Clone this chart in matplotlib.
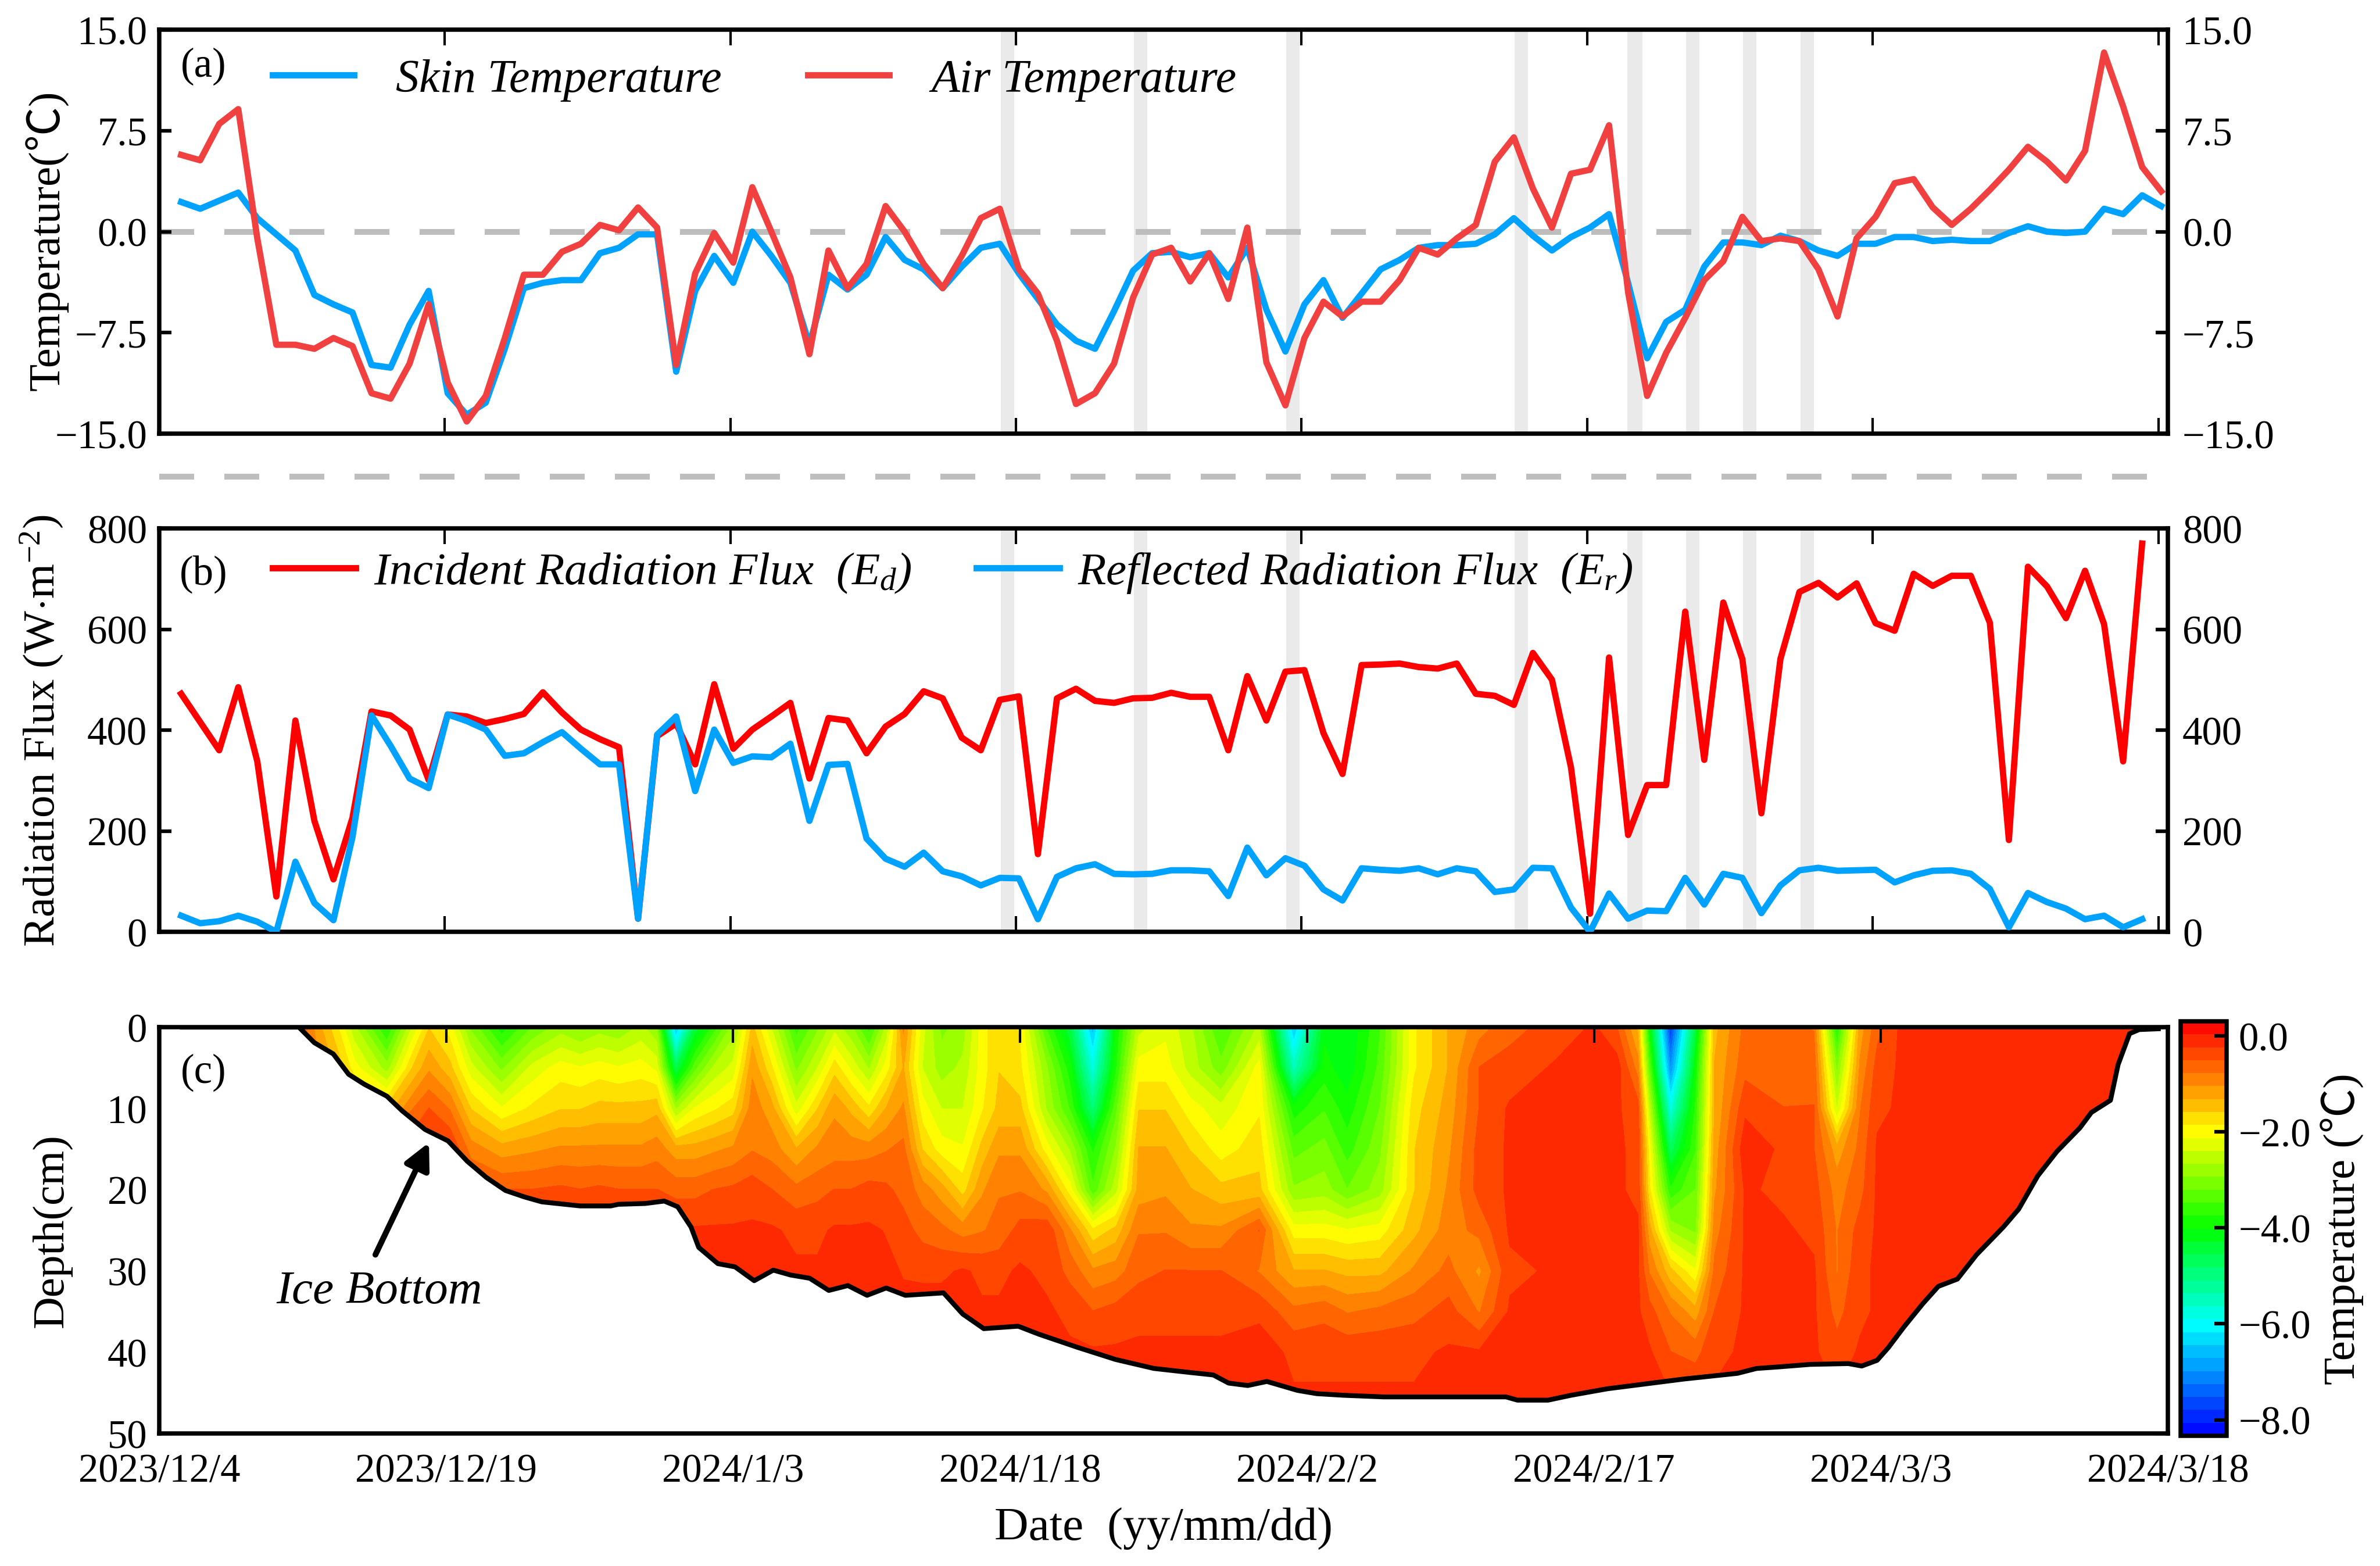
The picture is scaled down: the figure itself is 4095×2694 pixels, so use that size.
import numpy as np
import matplotlib
matplotlib.use("Agg")
import matplotlib.pyplot as plt
from matplotlib.colors import LinearSegmentedColormap
from matplotlib.lines import Line2D

plt.rcParams['font.family'] = ['Liberation Serif', 'Noto Sans CJK SC', 'DejaVu Sans']
plt.rcParams['mathtext.fontset'] = 'custom'
plt.rcParams['mathtext.rm'] = 'Liberation Serif'
plt.rcParams['mathtext.it'] = 'Liberation Serif:italic'
plt.rcParams['axes.unicode_minus'] = False

# tick labels, one every 15 days from 2023/12/4
date_ticks = [0, 15, 30, 45, 60, 75, 90, 105]
date_labels = ['2023/12/4', '2023/12/19', '2024/1/3', '2024/1/18',
               '2024/2/2', '2024/2/17', '2024/3/3', '2024/3/18']

# daily series, day 1 is 2023/12/5
skin_temp = [2.2, 1.7, 2.3, 2.9, 1.0, -0.2, -1.4, -4.7, -5.4, -6.0, -9.9, -10.1, -6.9, -4.4, -12.0,
             -13.6, -12.7, -8.7, -4.2, -3.8, -3.6, -3.6, -1.6, -1.2, -0.2, -0.2, -10.4, -4.4, -1.8, -3.8,
             0.0, -1.8, -3.8, -8.4, -3.2, -4.3, -3.2, -0.4, -2.1, -2.8, -4.2, -2.6, -1.2, -0.9, -3.1,
             -5.0, -6.9, -8.1, -8.7, -5.9, -2.9, -1.6, -1.5, -1.9, -1.6, -3.4, -1.2, -5.8, -8.9, -5.4,
             -3.6, -6.4, -4.6, -2.8, -2.1, -1.2, -1.0, -1.0, -0.9, -0.2, 1.0, -0.3, -1.4, -0.4, 0.3,
             1.3, -3.8, -9.4, -6.7, -5.8, -2.6, -0.8, -0.8, -1.0, -0.3, -0.7, -1.4, -1.8, -0.9, -0.9,
             -0.4, -0.4, -0.7, -0.6, -0.7, -0.7, -0.1, 0.4, 0.0, -0.1, 0.0, 1.7, 1.3, 2.7, 1.9]
air_temp = [5.7, 5.3, 8.0, 9.1, -0.5, -8.4, -8.4, -8.7, -7.9, -8.5, -12.0, -12.4, -9.8, -5.4, -11.2,
            -14.1, -12.2, -7.9, -3.2, -3.2, -1.5, -0.9, 0.5, 0.1, 1.8, 0.3, -9.9, -3.1, -0.1, -2.3,
            3.3, 0.0, -3.4, -9.1, -1.4, -4.2, -2.4, 1.9, 0.0, -2.4, -4.2, -1.8, 1.0, 1.7, -2.8,
            -4.6, -8.1, -12.8, -12.0, -9.8, -4.9, -1.7, -1.2, -3.7, -1.6, -5.0, 0.3, -9.7, -12.9, -7.9,
            -5.2, -6.3, -5.2, -5.2, -3.6, -1.2, -1.7, -0.5, 0.5, 5.2, 7.0, 3.2, 0.3, 4.3, 4.6,
            7.9, -4.5, -12.2, -9.0, -6.4, -3.6, -2.2, 1.1, -0.7, -0.5, -0.7, -2.8, -6.3, -0.5, 1.1,
            3.6, 3.9, 1.8, 0.5, 1.7, 3.1, 4.6, 6.3, 5.2, 3.8, 6.0, 13.3, 9.3, 4.8, 3.0]
incident_flux = [472, 416, 360, 485, 338, 70, 419, 220, 104, 226, 437, 429, 401, 301, 431,
                 427, 414, 422, 432, 475, 435, 401, 382, 366, 26, 388, 413, 332, 491, 363,
                 401, 427, 454, 304, 424, 419, 354, 407, 432, 477, 463, 385, 360, 460, 467,
                 154, 463, 482, 458, 454, 463, 464, 474, 466, 466, 360, 507, 419, 516, 519,
                 394, 313, 529, 530, 532, 525, 522, 532, 472, 468, 450, 553, 500, 326, 36,
                 544, 192, 291, 291, 635, 341, 653, 541, 235, 541, 674, 692, 663, 691, 612,
                 597, 710, 686, 706, 706, 613, 182, 724, 685, 622, 716, 610, 338, 770]
reflected_flux = [32, 17, 21, 32, 20, 0, 139, 57, 23, 188, 429, 369, 304, 285, 431,
                  418, 401, 349, 354, 376, 396, 363, 332, 332, 26, 391, 427, 279, 401, 335,
                  348, 346, 373, 220, 331, 333, 185, 145, 129, 157, 120, 110, 92, 107, 106,
                  25, 109, 126, 134, 115, 114, 115, 122, 122, 120, 71, 167, 112, 146, 131,
                  84, 62, 126, 123, 121, 126, 114, 126, 120, 79, 84, 127, 126, 48, 0,
                  76, 26, 42, 41, 107, 54, 115, 107, 37, 92, 122, 127, 121, 122, 123,
                  98, 112, 121, 122, 115, 85, 9, 77, 59, 46, 25, 32, 9, 25]

# grey bands, start and end day
band_start = [44.2, 51.2, 59.2, 71.2, 77.1, 80.2, 83.2, 86.2]
band_end = [44.9, 51.9, 59.9, 71.9, 77.9, 80.9, 83.9, 86.9]

# ice bottom
ice_days = [1.2, 7.3, 8.1, 9.1, 9.9, 10.7, 11.9, 12.7, 13.9, 15.1, 16.1, 17.1, 18.1, 19.1, 20, 22, 23.6,
            24, 25.4, 26.4, 27.1, 27.8, 28.2, 29.2, 30.1, 31.1, 32.1, 33, 34, 35, 36, 37, 38, 39, 41,
            42, 43.1, 44.9, 46, 48, 50, 52, 53.9, 55.1, 55.9, 56.9, 57.9, 59.5, 60.5, 61.9, 64, 70.4,
            71, 72.6, 73.8, 75.7, 79.7, 82.5, 83.5, 84.7, 86.3, 88.3, 89, 89.8, 90.4, 91.2, 92.2, 93,
            94, 95, 96.4, 97.2, 98.2, 99.2, 100.4, 101, 102, 102.4, 103, 103.5, 104.5]
ice_depth = [0, 0, 1.9, 3.3, 5.8, 7, 8.5, 10.3, 12.6, 14, 16.5, 18.5, 20.1, 20.9, 21.5, 22, 22,
             21.8, 21.7, 21.4, 22.1, 24.6, 27.1, 29.1, 29.5, 31.2, 29.9, 30.5, 30.9, 32.4, 31.8, 33, 32.1, 33, 32.7,
             35.3, 37.1, 36.8, 37.8, 39.4, 40.9, 42, 42.5, 42.8, 43.8, 44.1, 43.6, 44.7, 45.1, 45.3, 45.5, 45.5,
             45.9, 45.9, 45.3, 44.5, 43.3, 42.6, 42, 41.8, 41.5, 41.4, 41.7, 41, 39.4, 36.9, 34, 31.9,
             31, 28, 24.6, 22.4, 18.3, 15.3, 12.4, 10.5, 9, 4.6, 0.8, 0.3, 0.2]

# ice temperature, one row per day in profile_days, one column per depth
profile_depths = [0, 5, 10, 15, 20, 25, 30, 35, 40, 46]
profile_days = [0, 7.3, 8.3, 9.3, 10.2, 11.9, 13.2, 14.1, 15.2, 16.3, 17.9, 19.5, 21, 22, 23, 24, 25.2, 26,
                27, 28, 29, 30, 31, 32, 33.3, 34.4, 35.3, 36.2, 37.1, 38, 38.9, 39.9, 40.9, 42, 43, 43.9,
                45, 46.4, 47.6, 48.8, 50, 51.2, 52.6, 53.9, 55.5, 57.5, 59.3, 60.9, 62.1, 63.8, 65.6,
                67.4, 69, 70.6, 73, 75, 76.2, 77.3, 77.9, 79, 80.3, 81.3, 82.9, 84.9, 86.5, 87.7, 88.9,
                89.8, 91, 105]
profile_temps = [
    [-0.2, -0.2, -0.2, -0.2, -0.2, -0.2, -0.2, -0.2, -0.2, -0.2],
    [-0.5, -0.2, -0.2, -0.2, -0.2, -0.2, -0.2, -0.2, -0.2, -0.2],
    [-1.2, -1.0, -0.2, -0.2, -0.2, -0.2, -0.2, -0.2, -0.2, -0.2],
    [-1.8, -1.4, -0.6, -0.2, -0.2, -0.2, -0.2, -0.2, -0.2, -0.2],
    [-2.6, -2.0, -1.2, -0.2, -0.2, -0.2, -0.2, -0.2, -0.2, -0.2],
    [-3.8, -2.8, -1.5, -0.2, -0.2, -0.2, -0.2, -0.2, -0.2, -0.2],
    [-2.4, -1.6, -0.8, -0.3, -0.2, -0.2, -0.2, -0.2, -0.2, -0.2],
    [-1.6, -1.1, -0.5, -0.1, -0.2, -0.2, -0.2, -0.2, -0.2, -0.2],
    [-2.0, -1.5, -0.8, -0.2, -0.2, -0.2, -0.2, -0.2, -0.2, -0.2],
    [-3.0, -2.3, -1.6, -0.9, -0.4, -0.2, -0.2, -0.2, -0.2, -0.2],
    [-3.9, -3.0, -2.1, -1.2, -0.5, -0.2, -0.2, -0.2, -0.2, -0.2],
    [-3.2, -2.3, -1.8, -1.1, -0.5, -0.2, -0.2, -0.2, -0.2, -0.2],
    [-2.8, -2.0, -1.6, -1.0, -0.45, -0.2, -0.2, -0.2, -0.2, -0.2],
    [-3.0, -2.1, -1.6, -1.0, -0.5, -0.2, -0.2, -0.2, -0.2, -0.2],
    [-2.8, -2.0, -1.5, -1.0, -0.45, -0.2, -0.2, -0.2, -0.2, -0.2],
    [-2.9, -2.1, -1.5, -1.0, -0.5, -0.2, -0.2, -0.2, -0.2, -0.2],
    [-2.6, -2.0, -1.5, -1.0, -0.5, -0.25, -0.2, -0.2, -0.2, -0.2],
    [-2.9, -2.2, -1.4, -0.9, -0.5, -0.2, -0.2, -0.2, -0.2, -0.2],
    [-6.6, -4.6, -2.7, -1.2, -0.6, -0.2, -0.2, -0.2, -0.2, -0.2],
    [-4.5, -3.3, -2.1, -1.2, -0.6, -0.2, -0.2, -0.2, -0.2, -0.2],
    [-3.6, -2.6, -1.9, -1.1, -0.5, -0.2, -0.2, -0.2, -0.2, -0.2],
    [-2.8, -2.3, -1.7, -1.0, -0.45, -0.2, -0.2, -0.2, -0.2, -0.2],
    [-1.5, -1.1, -0.9, -0.8, -0.35, -0.2, -0.2, -0.2, -0.2, -0.2],
    [-2.4, -1.8, -1.2, -0.9, -0.5, -0.2, -0.2, -0.2, -0.2, -0.2],
    [-3.6, -3.0, -2.3, -1.3, -0.7, -0.3, -0.2, -0.2, -0.2, -0.2],
    [-3.0, -2.4, -1.6, -1.0, -0.6, -0.3, -0.2, -0.2, -0.2, -0.2],
    [-2.5, -1.7, -1.1, -0.9, -0.5, -0.2, -0.2, -0.2, -0.2, -0.2],
    [-2.9, -2.2, -1.4, -0.9, -0.5, -0.2, -0.2, -0.2, -0.2, -0.2],
    [-3.6, -2.7, -1.8, -0.9, -0.4, -0.2, -0.2, -0.2, -0.2, -0.2],
    [-2.6, -2.0, -1.3, -0.8, -0.45, -0.25, -0.2, -0.2, -0.2, -0.2],
    [-1.0, -1.3, -1.0, -0.7, -0.6, -0.4, -0.25, -0.2, -0.2, -0.2],
    [-2.3, -2.4, -2.0, -1.6, -0.9, -0.6, -0.3, -0.1, -0.2, -0.2],
    [-3.0, -2.8, -2.4, -2.0, -1.2, -0.7, -0.3, -0.1, -0.2, -0.2],
    [-2.8, -2.6, -2.4, -2.1, -1.7, -0.9, -0.2, -0.1, -0.2, -0.2],
    [-2.0, -2.0, -1.9, -1.5, -1.1, -0.8, -0.3, -0.2, -0.2, -0.2],
    [-1.6, -1.6, -1.5, -1.1, -0.8, -0.7, -0.3, -0.2, -0.2, -0.2],
    [-1.9, -1.8, -1.5, -1.1, -0.8, -0.4, -0.2, -0.2, -0.2, -0.2],
    [-3.5, -2.9, -2.7, -2.0, -1.1, -0.3, -0.3, -0.2, -0.2, -0.2],
    [-4.5, -3.9, -3.5, -2.7, -2.0, -1.0, -0.6, -0.3, -0.2, -0.2],
    [-6.6, -5.8, -4.9, -3.8, -3.4, -1.8, -1.0, -0.5, -0.2, -0.2],
    [-4.0, -3.8, -3.3, -2.9, -2.5, -1.5, -0.9, -0.4, -0.2, -0.2],
    [-2.5, -2.0, -1.6, -1.3, -1.2, -0.8, -0.6, -0.3, -0.2, -0.2],
    [-2.2, -2.0, -1.6, -1.3, -1.1, -0.8, -0.5, -0.3, -0.2, -0.2],
    [-2.6, -2.5, -2.0, -1.6, -1.3, -1.0, -0.5, -0.3, -0.2, -0.2],
    [-3.5, -3.1, -2.3, -2.0, -1.5, -1.0, -0.5, -0.3, -0.2, -0.2],
    [-2.6, -2.0, -1.9, -1.7, -1.5, -0.5, -0.8, -0.3, -0.1, -0.2],
    [-6.5, -5.5, -3.9, -3.3, -2.9, -2.0, -1.3, -0.7, -0.3, -0.2],
    [-4.1, -3.9, -3.5, -3.1, -2.8, -2.0, -1.3, -0.6, -0.3, -0.2],
    [-4.3, -4.2, -3.9, -3.6, -3.2, -2.1, -1.4, -0.8, -0.3, -0.2],
    [-3.5, -3.4, -3.2, -3.0, -2.8, -2.0, -1.4, -0.7, -0.3, -0.2],
    [-1.9, -1.9, -1.7, -1.6, -1.6, -1.4, -1.0, -0.6, -0.3, -0.2],
    [-1.3, -1.3, -1.2, -1.1, -1.0, -0.9, -0.7, -0.4, -0.2, -0.2],
    [-0.9, -0.5, -0.5, -0.4, -0.4, -0.7, -1.1, -0.8, -0.2, -0.2],
    [-0.6, -0.4, -0.2, -0.2, -0.2, -0.2, -0.3, -0.2, -0.2, -0.2],
    [-0.4, -0.2, -0.2, -0.2, -0.2, -0.2, -0.2, -0.2, -0.2, -0.2],
    [-0.2, -0.2, -0.2, -0.2, -0.2, -0.2, -0.2, -0.2, -0.2, -0.2],
    [-0.5, -0.1, -0.2, -0.2, -0.2, -0.1, -0.2, -0.2, -0.2, -0.2],
    [-1.4, -0.9, -0.4, -0.3, -0.3, -0.2, -0.2, -0.2, -0.2, -0.2],
    [-4.0, -3.3, -2.5, -2.0, -1.8, -1.2, -0.8, -0.4, -0.2, -0.2],
    [-7.8, -7.0, -5.8, -4.7, -3.7, -2.7, -1.5, -0.8, -0.5, -0.2],
    [-4.5, -4.0, -3.7, -3.5, -3.2, -3.0, -2.1, -1.2, -0.6, -0.2],
    [-1.4, -1.3, -1.3, -1.2, -1.1, -0.9, -0.7, -0.5, -0.3, -0.2],
    [-0.7, -0.6, -0.3, -0.05, -0.2, -0.2, -0.2, -0.2, -0.2, -0.2],
    [-0.7, -0.7, -0.5, -0.3, -0.3, -0.2, -0.2, -0.2, -0.2, -0.2],
    [-0.8, -0.6, -0.5, -0.5, -0.4, -0.3, -0.2, -0.2, -0.2, -0.2],
    [-3.8, -3.0, -2.4, -1.2, -0.9, -0.8, -0.8, -0.6, -0.4, -0.2],
    [-1.2, -1.0, -0.8, -0.7, -0.6, -0.4, -0.3, -0.3, -0.2, -0.2],
    [-0.6, -0.4, -0.3, -0.2, -0.2, -0.2, -0.2, -0.2, -0.2, -0.2],
    [-0.2, -0.2, -0.2, -0.2, -0.2, -0.2, -0.2, -0.2, -0.2, -0.2],
    [-0.2, -0.2, -0.2, -0.2, -0.2, -0.2, -0.2, -0.2, -0.2, -0.2],
]

W, H = 4095, 2695
SKIN_BLUE = '#00A2FF'
AIR_RED = '#F04040'
FLUX_RED = '#FF0000'
ZERO_GREY = '#BDBDBD'
BAND_GREY = '#EAEAEA'
SPINE_LW = 1.8
LINE_LW = 2.6
TICK_FS = 16.5
LEGEND_FS = 19.2
LABEL_FS = 18.5

plt.rcParams['axes.linewidth'] = SPINE_LW

fig = plt.figure(figsize=(W / 300, H / 300), dpi=300)


def add_axes_px(left, top, right, bottom):
    # pixel box of the reference -> figure fractions
    return fig.add_axes([left / W, 1 - bottom / H, (right - left) / W, (bottom - top) / H])


def style_ticks(ax):
    ax.tick_params(axis='x', which='major', direction='in', top=True, bottom=True,
                   length=6.5, width=1.0, labelsize=TICK_FS)
    ax.tick_params(axis='y', which='major', direction='in', left=True, right=True,
                   length=5, width=1.5, labelsize=TICK_FS, pad=5)


def add_bands(ax):
    for start, end in zip(band_start, band_end):
        ax.axvspan(start, end, color=BAND_GREY, lw=0, zorder=0)


def right_labels(ax, ticks, labels):
    # labels on the right as well, ticks stay on the main axis
    twin = ax.twinx()
    twin.set_ylim(ax.get_ylim())
    twin.set_yticks(ticks)
    twin.set_yticklabels(labels)
    twin.tick_params(axis='y', direction='in', length=5, width=1.5, labelsize=TICK_FS, pad=6)
    for spine in twin.spines.values():
        spine.set_visible(False)


days = np.arange(1, 106) + 0.15

# (a) temperature
ax_a = add_axes_px(274, 52, 3730, 747)
add_bands(ax_a)
ax_a.axhline(0, color=ZERO_GREY, lw=2.4, dashes=(6, 5.2), zorder=1)
ax_a.plot(days, skin_temp, color=SKIN_BLUE, lw=LINE_LW, label='Skin Temperature', zorder=2)
ax_a.plot(days, air_temp, color=AIR_RED, lw=LINE_LW, label='Air Temperature', zorder=3)
ax_a.set_xlim(0, 105.5)
ax_a.set_ylim(-15, 15)
temp_ticks = [-15, -7.5, 0, 7.5, 15]
temp_labels = ['\u221215.0', '\u22127.5', '0.0', '7.5', '15.0']
ax_a.set_xticks(date_ticks)
ax_a.set_xticklabels([])
ax_a.set_yticks(temp_ticks)
ax_a.set_yticklabels(temp_labels)
style_ticks(ax_a)
right_labels(ax_a, temp_ticks, temp_labels)
ax_a.set_ylabel('Temperature(\u2103)', fontsize=LABEL_FS)
ax_a.yaxis.set_label_coords(-0.045, 0.48)
ax_a.text(0.022, 0.91, '(a)', transform=ax_a.transAxes, fontsize=17, ha='center', va='center')
ax_a.legend(loc='center left', bbox_to_anchor=(0.0565, 0.875), frameon=False, ncol=2,
            prop={'style': 'italic', 'size': LEGEND_FS}, handlelength=1.75, handletextpad=0.9,
            columnspacing=1.85, borderpad=0, borderaxespad=0)

# dashed line between (a) and (b)
fig.add_artist(Line2D([274 / W, 3730 / W], [1 - 821 / H, 1 - 821 / H], color=ZERO_GREY, lw=2.4,
                      dashes=(6, 5.2)))

# (b) radiation flux
ax_b = add_axes_px(274, 910, 3730, 1604)
add_bands(ax_b)
ax_b.plot(days[:104], incident_flux, color=FLUX_RED, lw=LINE_LW, zorder=2,
          label=r'Incident Radiation Flux  ($\mathit{E_d}$)')
ax_b.plot(days[:104], reflected_flux, color=SKIN_BLUE, lw=LINE_LW, zorder=3,
          label=r'Reflected Radiation Flux  ($\mathit{E_r}$)')
ax_b.set_xlim(0, 105.5)
ax_b.set_ylim(0, 800)
flux_ticks = [0, 200, 400, 600, 800]
flux_labels = ['0', '200', '400', '600', '800']
ax_b.set_xticks(date_ticks)
ax_b.set_xticklabels([])
ax_b.set_yticks(flux_ticks)
ax_b.set_yticklabels(flux_labels)
style_ticks(ax_b)
right_labels(ax_b, flux_ticks, flux_labels)
ax_b.set_ylabel('Radiation Flux (W$\\cdot$m$^{-2}$)', fontsize=LABEL_FS)
ax_b.yaxis.set_label_coords(-0.047, 0.5)
ax_b.text(0.022, 0.888, '(b)', transform=ax_b.transAxes, fontsize=17, ha='center', va='center')
ax_b.legend(loc='center left', bbox_to_anchor=(0.0565, 0.89), frameon=False, ncol=2,
            prop={'style': 'italic', 'size': 19}, handlelength=1.8, handletextpad=0.4,
            columnspacing=1.4, borderpad=0, borderaxespad=0)

# (c) ice temperature
ax_c = add_axes_px(274, 1768, 3730, 2467)
levels = np.linspace(-8.33, 0.3, 33)
cmap = LinearSegmentedColormap.from_list('ice', [
    (0.0, '#0000FF'),
    ((-6 + 8.33) / 8.63, '#00FFFF'),
    ((-4 + 8.33) / 8.63, '#00FF00'),
    ((-2 + 8.33) / 8.63, '#FFFF00'),
    (1.0, '#FF0000')])
cf = ax_c.contourf(profile_days, profile_depths, np.array(profile_temps).T, levels=levels, cmap=cmap)
ice_x = ice_days + [105]
ice_y = ice_depth + [0.2]
ax_c.fill_between([0] + ice_x, [0] + ice_y, 50, color='white', lw=0, zorder=2)
ax_c.plot(ice_x[:-1], ice_y[:-1], color='black', lw=2.0, zorder=3)
ax_c.set_xlim(0, 105)
ax_c.set_ylim(50, 0)
ax_c.set_xticks(date_ticks)
ax_c.set_xticklabels(date_labels)
ax_c.set_yticks([0, 10, 20, 30, 40, 50])
style_ticks(ax_c)
ax_c.tick_params(axis='x', pad=8)
for spine in ax_c.spines.values():
    spine.set_zorder(5)
ax_c.set_ylabel('Depth(cm)', fontsize=LABEL_FS)
ax_c.yaxis.set_label_coords(-0.0434, 0.5)
ax_c.set_xlabel('Date  (yy/mm/dd)', fontsize=19.5)
ax_c.xaxis.set_label_coords(0.5, -0.181)
ax_c.text(0.022, 0.89, '(c)', transform=ax_c.transAxes, fontsize=17, ha='center', va='center',
          zorder=6)
ax_c.annotate('', xy=(14.1, 14.2), xytext=(11.3, 28), zorder=6,
              arrowprops=dict(arrowstyle='-|>,head_length=0.9,head_width=0.45', lw=2.4, color='black',
                              shrinkA=0, shrinkB=0))
ax_c.text(11.5, 32.5, 'Ice Bottom', style='italic', fontsize=19.5, ha='center', va='center', zorder=6)

# colorbar
cax = add_axes_px(3752, 1758, 3831, 2471)
cbar = fig.colorbar(cf, cax=cax)
cbar.set_ticks([0, -2, -4, -6, -8])
cbar.set_ticklabels(['0.0', '\u22122.0', '\u22124.0', '\u22126.0', '\u22128.0'])
cbar.ax.tick_params(direction='in', length=5, width=1.5, labelsize=TICK_FS, pad=5)
cbar.outline.set_linewidth(SPINE_LW)
cbar.set_label('Temperature (\u2103)', fontsize=LABEL_FS, labelpad=4)

fig.savefig('out.png', dpi=300)
